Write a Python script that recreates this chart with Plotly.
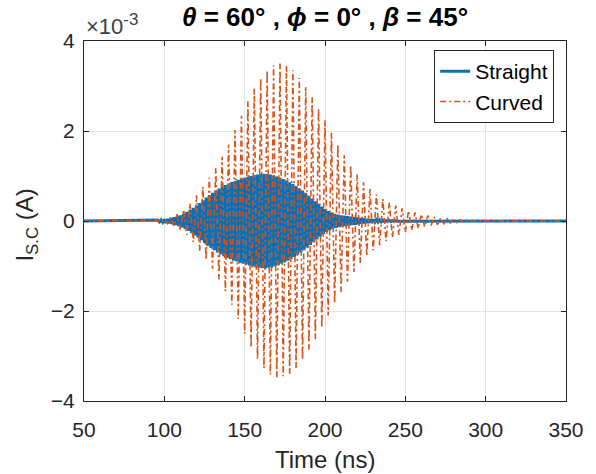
import plotly.graph_objects as go

# ---------------- data (current in units of 1e-3 A) ----------------
time_range = [50, 350]
x_ticks = [50, 100, 150, 200, 250, 300, 350]
y_ticks = [-4, -2, 0, 2, 4]

# Curved: successive oscillation peaks (every 2 ns)
curved_t = list(range(96, 301, 2))
curved_mA = [
    0.02, -0.03, 0.04, -0.06, 0.08, -0.11, 0.15, -0.20, 0.25, -0.31,
    0.39, -0.47, 0.57, -0.66, 0.76, -0.86, 0.96, -1.06, 1.18, -1.30,
    1.43, -1.56, 1.70, -1.86, 2.02, -2.18, 2.34, -2.50, 2.66, -2.81,
    2.95, -3.07, 3.18, -3.27, 3.35, -3.41, 3.46, -3.47, 3.50, -3.45,
    3.46, -3.40, 3.35, -3.27, 3.18, -3.08, 2.97, -2.86, 2.75, -2.63,
    2.50, -2.37, 2.24, -2.10, 1.96, -1.83, 1.70, -1.58, 1.46, -1.35,
    1.24, -1.13, 1.03, -0.94, 0.86, -0.78, 0.71, -0.65, 0.59, -0.54,
    0.49, -0.45, 0.41, -0.37, 0.34, -0.31, 0.28, -0.25, 0.23, -0.21,
    0.19, -0.17, 0.15, -0.13, 0.12, -0.10, 0.09, -0.08, 0.07, -0.06,
    0.05, -0.045, 0.04, -0.035, 0.03, -0.025, 0.02, -0.02, 0.015, -0.01,
    0.01, -0.005, 0.005,
]

# Straight: successive oscillation peaks (every 1 ns)
straight_t = list(range(96, 246))
straight_mA = [
    0.02, -0.02, 0.025, -0.03, 0.035, -0.04, 0.045, -0.05, 0.06, -0.07,
    0.08, -0.09, 0.10, -0.11, 0.125, -0.14, 0.16, -0.18, 0.20, -0.22,
    0.245, -0.27, 0.295, -0.32, 0.345, -0.37, 0.40, -0.43, 0.46, -0.49,
    0.52, -0.55, 0.575, -0.60, 0.625, -0.65, 0.675, -0.70, 0.72, -0.74,
    0.76, -0.78, 0.80, -0.82, 0.835, -0.85, 0.865, -0.88, 0.89, -0.90,
    0.915, -0.93, 0.94, -0.95, 0.96, -0.97, 0.98, -0.99, 1.00, -1.01,
    1.02, -1.03, 1.035, -1.04, 1.045, -1.05, 1.05, -1.05, 1.045, -1.04,
    1.035, -1.03, 1.015, -1.00, 0.99, -0.98, 0.965, -0.95, 0.935, -0.92,
    0.90, -0.88, 0.86, -0.84, 0.82, -0.80, 0.775, -0.75, 0.725, -0.70,
    0.675, -0.65, 0.62, -0.59, 0.56, -0.53, 0.50, -0.47, 0.44, -0.41,
    0.38, -0.35, 0.32, -0.29, 0.265, -0.24, 0.22, -0.20, 0.185, -0.17,
    0.16, -0.15, 0.14, -0.13, 0.125, -0.12, 0.115, -0.11, 0.105, -0.10,
    0.095, -0.09, 0.085, -0.08, 0.075, -0.07, 0.065, -0.06, 0.055, -0.05,
    0.045, -0.04, 0.038, -0.035, 0.032, -0.03, 0.028, -0.025, 0.022, -0.02,
    0.018, -0.015, 0.012, -0.01, 0.01, -0.01, 0.008, -0.005, 0.005, -0.005,
]

# flat baseline at both ends of the time window
x_s = [time_range[0]] + straight_t + [time_range[1]]
y_s = [0] + straight_mA + [0]
x_c = [time_range[0]] + curved_t + [time_range[1]]
y_c = [0] + curved_mA + [0]

FONT = "Liberation Sans, Arial, Helvetica, sans-serif"
DARK = "#262626"

fig = go.Figure()
fig.add_trace(go.Scatter(
    x=x_s, y=y_s, mode="lines", name="Straight",
    line=dict(color="#0072BD", width=3, simplify=False),
))
fig.add_trace(go.Scatter(
    x=x_c, y=y_c, mode="lines", name="Curved",
    line=dict(color="#D95319", width=1.6, dash="6px,3px,2px,3px", simplify=False),
))

axis_common = dict(
    ticks="inside", ticklen=5, tickwidth=1, tickcolor=DARK,
    showline=True, linecolor=DARK, linewidth=1, mirror="ticks",
    showgrid=True, gridcolor="#e3e3e3", gridwidth=1, zeroline=False,
    tickfont=dict(family=FONT, size=21, color=DARK),
)

fig.update_layout(
    width=596, height=474,
    margin=dict(l=84, r=22, t=41, b=73),
    paper_bgcolor="white", plot_bgcolor="white",
    font=dict(family=FONT, color=DARK),
    title=dict(
        text="<b><i>θ</i> = 60° , <i>ϕ</i> = 0° , <i>β</i> = 45°</b>",
        x=0.5, xref="paper", xanchor="center",
        y=1 - 17 / 474, yref="container", yanchor="middle",
        font=dict(family=FONT, size=26, color="black"),
    ),
    xaxis=dict(
        range=time_range, tickvals=x_ticks,
        ticklabelstandoff=10,
        **axis_common,
    ),
    yaxis=dict(
        range=[-4, 4], tickvals=y_ticks,
        ticklabelstandoff=4,
        **axis_common,
    ),
    legend=dict(
        x=0.9755, y=0.975, xanchor="right", yanchor="top",
        bgcolor="white", bordercolor=DARK, borderwidth=1,
        font=dict(family=FONT, size=21, color="black"),
        tracegroupgap=0,
    ),
    showlegend=True,
)

fig.add_annotation(
    text="Time (ns)",
    xref="paper", yref="paper", x=0.5, y=(401 - 459) / 360,
    xanchor="center", yanchor="middle", showarrow=False,
    font=dict(family=FONT, size=24, color=DARK),
)
fig.add_annotation(
    text="I<sub>S.C</sub> (A)", textangle=-90,
    xref="paper", yref="paper", x=(26 - 84) / 490, y=0.49,
    xanchor="center", yanchor="middle", showarrow=False,
    font=dict(family=FONT, size=24, color=DARK),
)
fig.add_annotation(
    text="×10<sup><span style='font-size:17px'>-3</span></sup>",
    xref="paper", yref="paper", x=0.0, y=1.0,
    xanchor="left", yanchor="bottom", showarrow=False,
    font=dict(family=FONT, size=22, color="#404040"),
)

fig.write_html("out.html")
